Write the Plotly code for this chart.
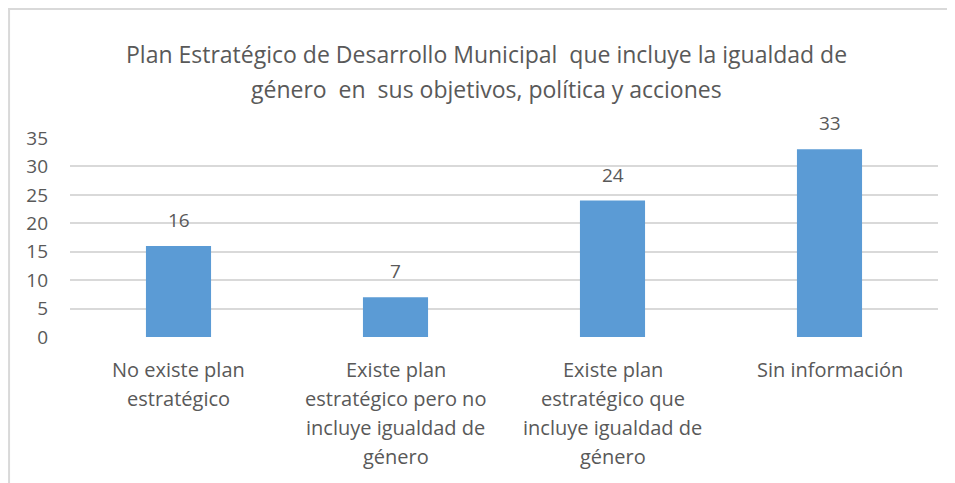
import plotly.graph_objects as go

title_lines = ["Plan Estratégico de Desarrollo Municipal  que incluye la igualdad de",
               "género  en  sus objetivos, política y acciones"]
categories = ["No existe plan estratégico",
              "Existe plan estratégico pero no incluye igualdad de género",
              "Existe plan estratégico que incluye igualdad de género",
              "Sin información"]
category_lines = [["No existe plan", "estratégico"],
                  ["Existe plan", "estratégico pero no", "incluye igualdad de", "género"],
                  ["Existe plan", "estratégico que", "incluye igualdad de", "género"],
                  ["Sin información"]]
values = [16, 7, 24, 33]
y_ticks = [0, 5, 10, 15, 20, 25, 30, 35]

FONT = "Open Sans"
GRAY = "#595959"

fig = go.Figure(go.Bar(x=categories, y=values, marker=dict(color="#5B9BD5", line=dict(width=0)),
                       width=0.3))

ann = []
for i, t in enumerate(title_lines):
    ann.append(dict(text=t, xref="paper", yref="paper", x=0.48, y=1, xanchor="center", yanchor="middle",
                    yshift=84 - i * 35, showarrow=False, font=dict(family=FONT, size=23, color=GRAY)))
for c, lines in zip(categories, category_lines):
    for j, ln in enumerate(lines):
        ann.append(dict(text=ln, xref="x", yref="paper", x=c, y=0, xanchor="center", yanchor="middle",
                        yshift=-32 - j * 29, showarrow=False, font=dict(family=FONT, size=20, color=GRAY)))
for c, v in zip(categories, values):
    ann.append(dict(text=str(v), xref="x", yref="y", x=c, y=v, xanchor="center", yanchor="bottom",
                    yshift=11, showarrow=False, font=dict(family=FONT, size=19, color=GRAY)))

fig.update_layout(
    width=947, height=475,
    margin=dict(l=62, r=17, t=130, b=146),
    paper_bgcolor="white", plot_bgcolor="white",
    showlegend=False,
    annotations=ann,
    xaxis=dict(showticklabels=False, showgrid=False, zeroline=False, showline=False, ticks=""),
    yaxis=dict(range=[0, 35], tickvals=y_ticks, showgrid=True, gridcolor="#D9D9D9", gridwidth=1.5,
               zeroline=False, showline=False, ticks="", ticklabelstandoff=21,
               tickfont=dict(family=FONT, size=19, color=GRAY)),
    shapes=[dict(type="line", xref="paper", yref="paper", x0=-0.0714, x1=1.1, y0=1.648, y1=1.648,
                 line=dict(color="#D9D9D9", width=2)),
            dict(type="line", xref="paper", yref="paper", x0=-0.0702, x1=-0.0702, y0=-0.8, y1=1.648,
                 line=dict(color="#D9D9D9", width=2))],
)
fig.write_html("out.html")
